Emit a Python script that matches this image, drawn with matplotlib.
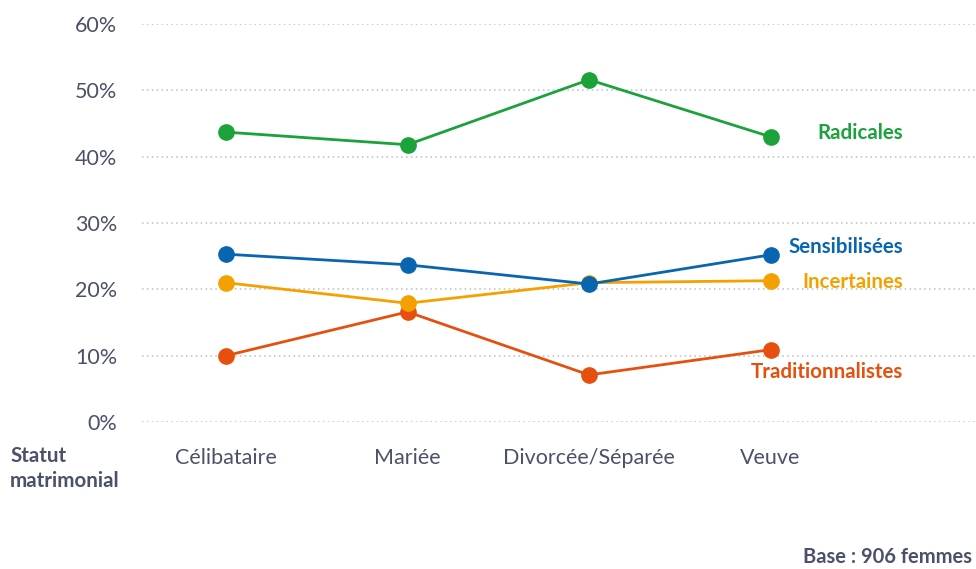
import matplotlib
matplotlib.use("Agg")
import matplotlib.pyplot as plt

categories = ["Célibataire", "Mariée", "Divorcée/Séparée", "Veuve"]
radicales = [43.7, 41.8, 51.6, 43.0]
sensibilisees = [25.3, 23.7, 20.8, 25.2]
incertaines = [21.0, 17.9, 21.0, 21.3]
traditionnalistes = [10.0, 16.6, 7.1, 10.9]
series_names = ["Radicales", "Sensibilisées", "Incertaines", "Traditionnalistes"]
yticks = [0, 10, 20, 30, 40, 50, 60]
ytick_labels = ["0%", "10%", "20%", "30%", "40%", "50%", "60%"]

colors = ["#1ba23a", "#0866b0", "#f4a100", "#e6500f"]
label_y = [43.6, 26.4, 21.1, 7.5]
text_col = "#4b5168"

plt.rcParams['font.family'] = ['Lato', 'DejaVu Sans']

W, H = 976, 569
fig = plt.figure(figsize=(W/100, H/100), dpi=100)
ax = fig.add_axes([142/W, 1-422/H, 1-142/W, (422-24)/H])
ax.set_ylim(0, 60)
x = list(range(len(categories)))
left = (142-226)/181.5
right = (976-226)/181.5
ax.set_xlim(left, right)

for s in ax.spines.values():
    s.set_visible(False)
ax.tick_params(length=0)
ax.set_yticks(yticks)
ax.set_yticklabels(ytick_labels, fontsize=15.5, color=text_col, fontweight='normal')
ax.yaxis.set_tick_params(pad=18)
ax.set_xticks(x)
ax.set_xticklabels(categories, fontsize=15.5, color=text_col, fontweight='normal')
ax.xaxis.set_tick_params(pad=19)
ax.grid(axis='y', linestyle=(0, (1, 2.2)), color='#bdbdbd', linewidth=1.1)
ax.set_axisbelow(True)

data = [radicales, sensibilisees, incertaines, traditionnalistes]
for i, (vals, c, name, ly) in enumerate(zip(data, colors, series_names, label_y)):
    ax.plot(x, vals, color=c, linewidth=2, marker='o', markersize=11, clip_on=False,
            zorder=10 - i)
    ax.text((903-226)/181.5, ly, name, color=c, fontsize=14.8, fontweight='bold',
            ha='right', va='center')

fig.text(10/W, 1-456/H, "Statut", fontsize=14.8, fontweight='bold', color=text_col,
         ha='left', va='center')
fig.text(10/W, 1-481/H, "matrimonial", fontsize=14.8, fontweight='bold', color=text_col,
         ha='left', va='center')
fig.text(972/W, 1-557/H, "Base : 906 femmes", fontsize=14.5, fontweight='bold', color=text_col,
         ha='right', va='center')

fig.savefig("out.png", dpi=100)
